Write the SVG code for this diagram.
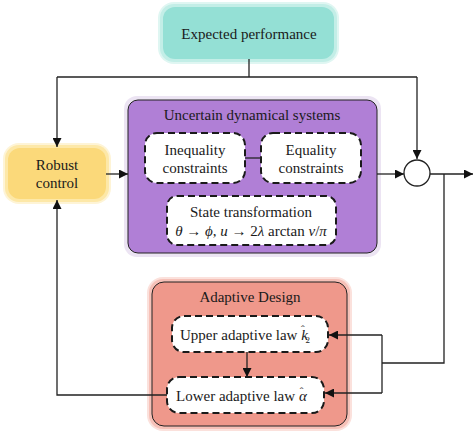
<svg xmlns="http://www.w3.org/2000/svg" width="474" height="436" viewBox="0 0 474 436">
<defs>
<style>
text{font-size:15px;fill:#1a1a1a}
.ln{fill:none;stroke:#222;stroke-width:1.3}
.dash{fill:#fff;stroke:#1a1a1a;stroke-width:2;stroke-dasharray:7,4}
.m{font-style:italic}
</style>
<marker id="ah" viewBox="0 0 10 10" refX="10" refY="5" markerWidth="9" markerHeight="9" markerUnits="userSpaceOnUse" orient="auto">
<path d="M0,0L10,5L0,10z" fill="#111"/>
</marker>
</defs>
<rect width="474" height="436" fill="#fff"/>
<g id="expected">
<rect x="158" y="2" width="181" height="62" rx="16" fill="#dff6f2"/>
<rect x="160" y="4" width="177" height="58" rx="14" fill="#c3eee7"/>
<rect x="163" y="7" width="171" height="52" rx="12" fill="#94e0d5"/>
<text x="249" y="39" font-family="Times New Roman" text-anchor="middle">Expected performance</text>
</g>
<g id="robust">
<rect x="3" y="143" width="108" height="61" rx="16" fill="#fef4d6"/>
<rect x="5" y="145" width="104" height="57" rx="14" fill="#fde8a8"/>
<rect x="8" y="148" width="98" height="51" rx="12" fill="#fbd97a"/>
<text x="57" y="170" font-family="Times New Roman" text-anchor="middle">Robust</text>
<text x="57" y="188" font-family="Times New Roman" text-anchor="middle">control</text>
</g>
<g id="uds">
<rect x="124" y="96" width="257" height="161" rx="13" fill="#ece4f3"/>
<rect x="128" y="100" width="249" height="153" rx="10" fill="#b07fd6" stroke="#222" stroke-width="1"/>
<text x="252" y="120" font-family="Times New Roman" text-anchor="middle">Uncertain dynamical systems</text>
</g>
<g id="ineq">
<rect x="145" y="133" width="100" height="50" rx="12" class="dash"/>
<text x="195" y="155" font-family="Times New Roman" text-anchor="middle">Inequality</text>
<text x="195" y="173" font-family="Times New Roman" text-anchor="middle">constraints</text>
</g>
<g id="eq">
<rect x="261" y="133" width="100" height="50" rx="12" class="dash"/>
<text x="311" y="155" font-family="Times New Roman" text-anchor="middle">Equality</text>
<text x="311" y="173" font-family="Times New Roman" text-anchor="middle">constraints</text>
</g>
<g id="state">
<rect x="167" y="196" width="169" height="49" rx="10" class="dash"/>
<text x="251" y="217" font-family="Times New Roman" text-anchor="middle">State transformation</text>
<text x="251" y="236" font-family="Times New Roman" text-anchor="middle" font-size="14"><tspan class="m">θ</tspan> → <tspan class="m">ϕ</tspan>,  <tspan class="m">u</tspan> → 2<tspan class="m">λ</tspan> arctan <tspan class="m">ν</tspan>/<tspan class="m">π</tspan></text>
</g>
<g id="sum">
<circle cx="417" cy="173" r="13" fill="#fff" stroke="#222" stroke-width="1.3"/>
</g>
<g id="adaptive">
<rect x="147" y="277" width="205" height="154" rx="16" fill="#fbe1dc"/>
<rect x="149" y="279" width="201" height="150" rx="14" fill="#f6c1b8"/>
<rect x="152" y="282" width="195" height="144" rx="12" fill="#ef988b" stroke="#222" stroke-width="1"/>
<text x="250" y="302" font-family="Times New Roman" text-anchor="middle">Adaptive Design</text>
</g>
<g id="upper">
<rect x="172" y="316" width="156" height="36" rx="12" class="dash"/>
<text x="180" y="340" font-family="Times New Roman">Upper adaptive law  <tspan class="m">k</tspan><tspan font-size="11" dx="-7" dy="-7">ˆ</tspan><tspan font-size="9" dx="1" dy="10">2</tspan></text>
</g>
<g id="lower">
<rect x="167" y="377" width="157" height="36" rx="12" class="dash"/>
<text x="176" y="401" font-family="Times New Roman">Lower adaptive law <tspan class="m">α</tspan><tspan font-size="11" dx="-7" dy="-6">ˆ</tspan></text>
</g>
<g id="connectors">
<path class="ln" d="M249,59V77"/>
<path class="ln" d="M57,77H417"/>
<path class="ln" d="M57,77V147" marker-end="url(#ah)"/>
<path class="ln" d="M417,77V159" marker-end="url(#ah)"/>
<path class="ln" d="M106,174H128" marker-end="url(#ah)"/>
<path class="ln" d="M377,174H404" marker-end="url(#ah)"/>
<path class="ln" d="M245,158H261"/>
<path class="ln" d="M430,174H473" marker-end="url(#ah)"/>
<path class="ln" d="M444,174V363H382"/>
<path class="ln" d="M382,335V393"/>
<path class="ln" d="M382,335H329" marker-end="url(#ah)"/>
<path class="ln" d="M382,393H325" marker-end="url(#ah)"/>
<path class="ln" d="M247,352V377" marker-end="url(#ah)"/>
<path class="ln" d="M167,395H57V200" marker-end="url(#ah)"/>
</g>
</svg>
